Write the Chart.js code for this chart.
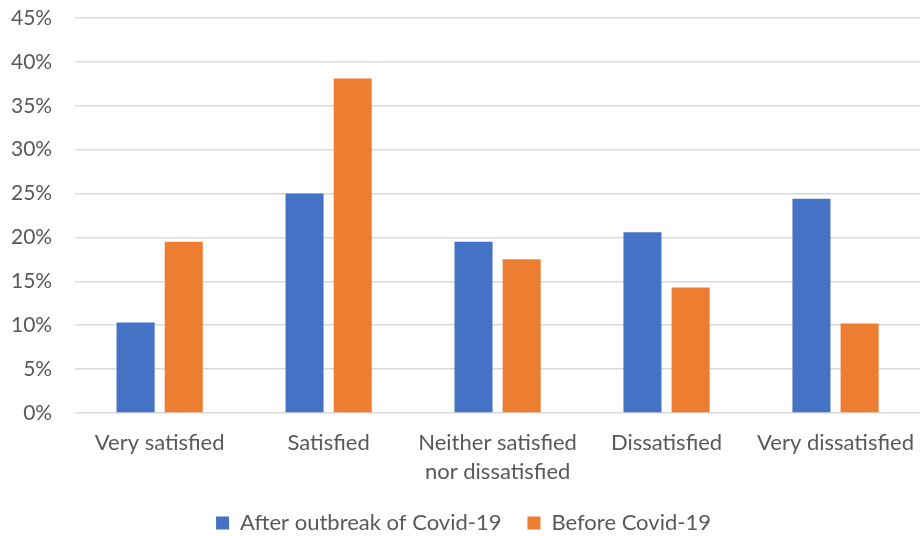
<!DOCTYPE html>
<html>
<head>
<meta charset="utf-8">
<script src="https://cdn.jsdelivr.net/npm/chart.js@4"></script>
<style>
  html, body { margin: 0; padding: 0; background: #fff; }
  #wrap { width: 920px; height: 536px; }
</style>
</head>
<body>
<div id="wrap"><canvas id="chart" width="920" height="536"></canvas></div>
<script>
// categories and series (percent)
var categories = ["Very satisfied", "Satisfied", ["Neither satisfied", "nor dissatisfied"], "Dissatisfied", "Very dissatisfied"];
var afterOutbreak = [10.3, 25.0, 19.5, 20.6, 24.4];
var beforeCovid = [19.5, 38.1, 17.5, 14.3, 10.2];
var seriesNames = ["After outbreak of Covid-19", "Before Covid-19"];

document.addEventListener("DOMContentLoaded", event => {
    createChart(document.getElementById("chart"));
})

/**
 * Builds the grouped bar chart
 * @param {*} ctx - the canvas element
 */
function createChart(ctx) {
    const textColor = '#595959'
    const family = 'Lato, "Open Sans", sans-serif'
    const legendBoxHeight = 50

    // Legend padding sets both the gap between items and the space above/below,
    // so shrink the legend box after it has been fitted
    const legendHeight = {
        id: 'legendHeight',
        beforeInit: (chart) => {
            var originalFit = chart.legend.fit;
            chart.legend.fit = function fit() {
                originalFit.bind(chart.legend)();
                this.height = legendBoxHeight;
            }
        }
    };

    var myChart = new Chart(ctx, {
        type: 'bar',
        data: {
            labels: categories,
            datasets: [{
                label: seriesNames[0],
                data: afterOutbreak,
                backgroundColor: '#4472C4'
            }, {
                label: seriesNames[1],
                data: beforeCovid,
                backgroundColor: '#ED7D31'
            }]
        },
        options: {
            responsive: false,
            animation: false,
            layout: {
                autoPadding: false,
                padding: { top: 18, right: 0, left: 7, bottom: 0 }
            },
            datasets: {
                bar: {
                    categoryPercentage: 0.57,
                    barPercentage: 0.79
                }
            },
            plugins: {
                legend: {
                    position: 'bottom',
                    labels: {
                        color: textColor,
                        font: { family: family, size: 22 },
                        boxWidth: 13,
                        boxHeight: 13,
                        padding: 26
                    }
                },
                tooltip: { enabled: false }
            },
            scales: {
                x: {
                    // grid hidden, but its tick length still spaces the labels
                    grid: { display: false, tickLength: 15 },
                    border: { display: false },
                    ticks: {
                        color: textColor,
                        font: { family: family, size: 22, lineHeight: 1.32 },
                        maxRotation: 0,
                        autoSkip: false,
                        padding: 0
                    }
                },
                y: {
                    min: 0,
                    max: 45,
                    border: { display: false },
                    grid: {
                        color: '#d9d9d9',
                        lineWidth: 1.5,
                        drawTicks: true,
                        tickLength: 19,
                        tickColor: 'rgba(0,0,0,0)'
                    },
                    ticks: {
                        stepSize: 5,
                        color: textColor,
                        font: { family: family, size: 21 },
                        padding: 4,
                        callback: function (value) {
                            return value + '%';
                        }
                    }
                }
            }
        },
        plugins: [legendHeight]
    });
}
</script>
</body>
</html>
